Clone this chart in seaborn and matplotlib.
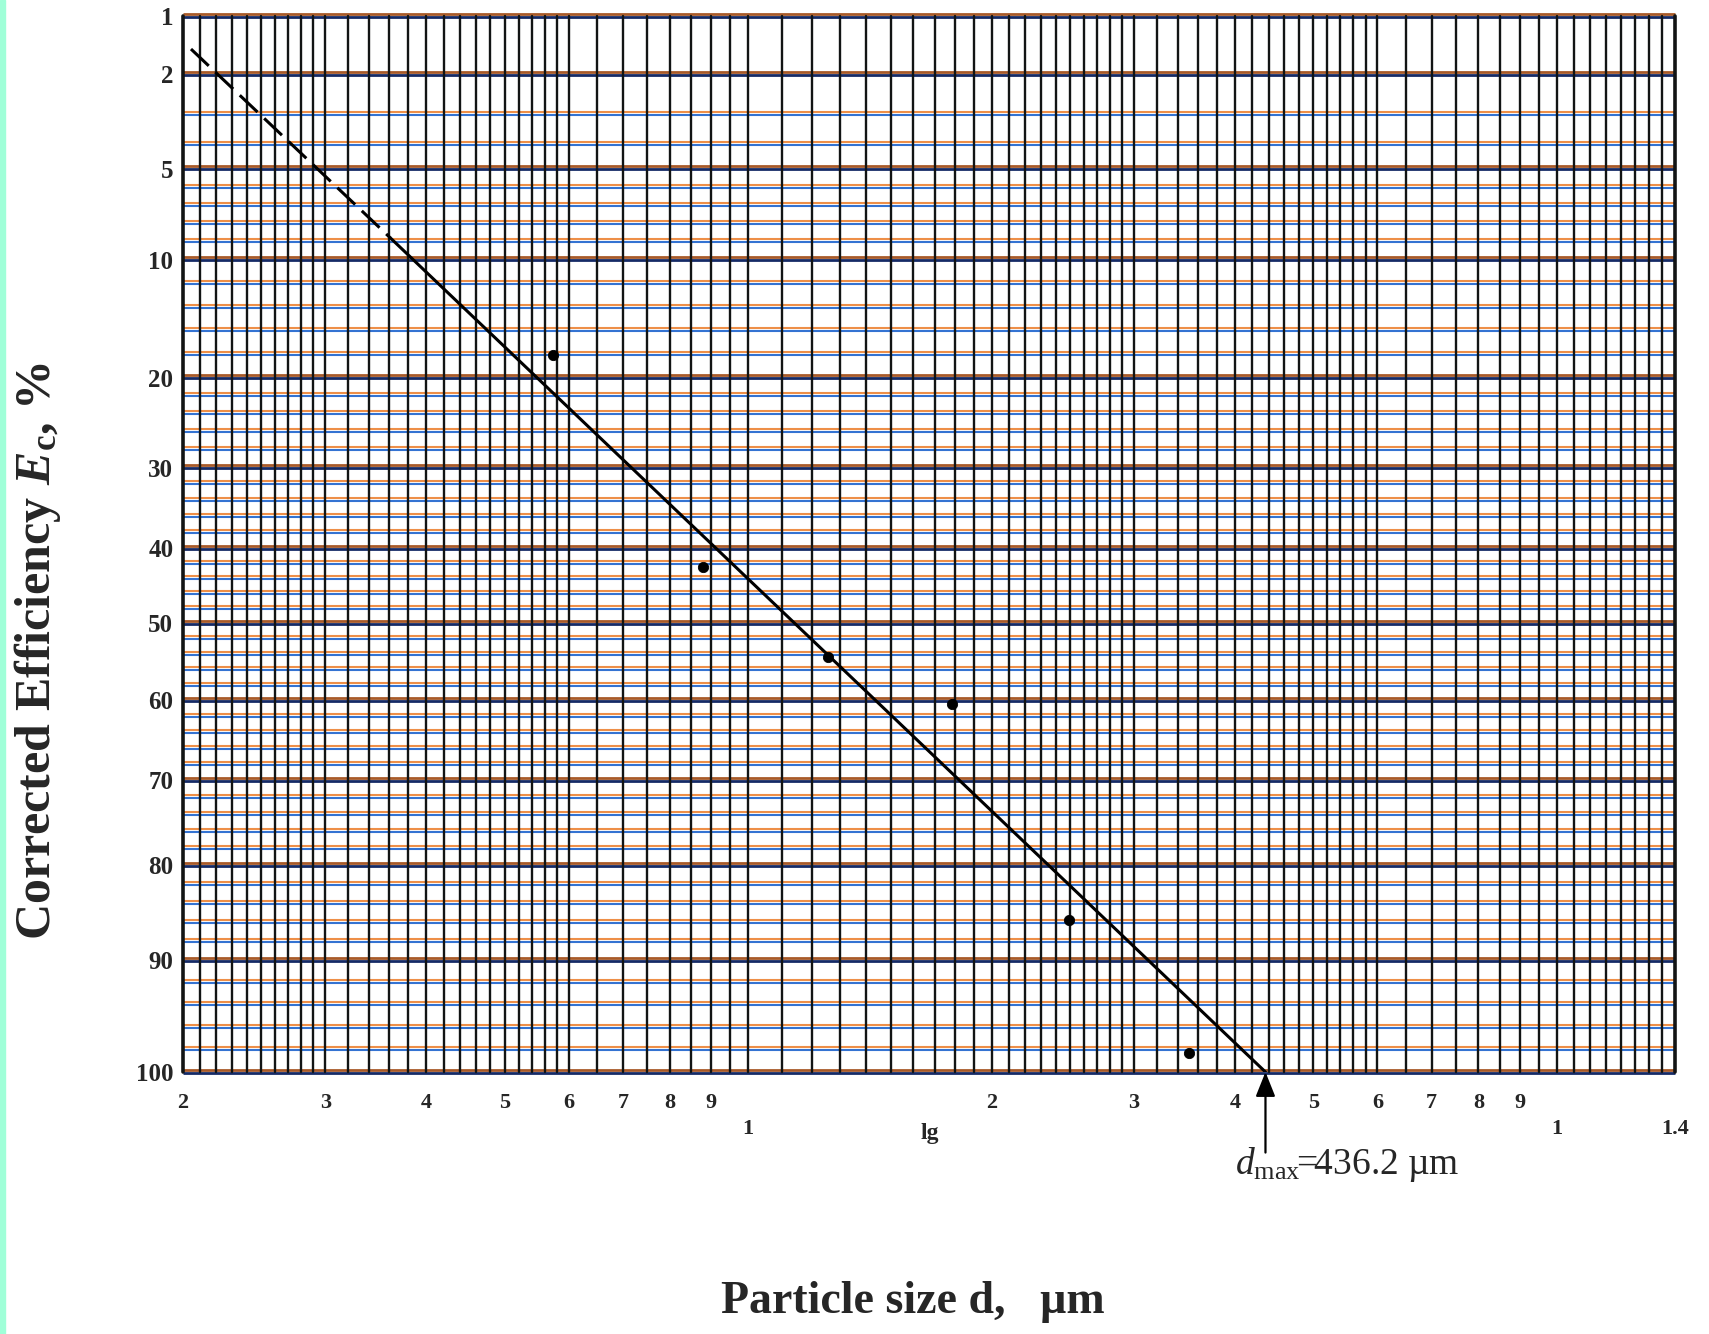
import numpy as np
import matplotlib
matplotlib.use("Agg")
import matplotlib.pyplot as plt
import matplotlib.transforms as mtransforms
from matplotlib.patches import Rectangle
from matplotlib.ticker import FixedLocator, FixedFormatter, NullLocator
import seaborn as sns

# ---------------- data ----------------
particle_size_um = [57.4, 87.9, 125.5, 178.6, 249.4, 350.8]
corrected_eff_pct = [18.1, 42.5, 54.4, 60.4, 85.8, 98.3]

fit_dashed_d = [20.46, 36.1]
fit_dashed_E = [1.57, 8.8]
fit_solid_d = [36.1, 436.2]
fit_solid_E = [8.8, 100.0]
d_max = 436.2

x_tick_values = [20, 30, 40, 50, 60, 70, 80, 90, 200, 300, 400, 500, 600, 700, 800, 900]
x_tick_labels = ["2", "3", "4", "5", "6", "7", "8", "9", "2", "3", "4", "5", "6", "7", "8", "9"]
x_decade_values = [100, 1000, 1400]
x_decade_labels = ["1", "1", "1.4"]
y_tick_values = [1, 2, 5, 10, 20, 30, 40, 50, 60, 70, 80, 90, 100]
y_tick_labels = ["1", "2", "5", "10", "20", "30", "40", "50", "60", "70", "80", "90", "100"]

# efficiency scale of the printed paper (value -> fraction of axis height)
paper_E = np.array([1, 2, 3, 4, 5, 10, 20, 30, 40, 50, 60, 70, 80, 90, 100], float)
paper_u = np.array([0, 58, 98, 129, 153, 244, 362, 452, 533, 608, 685, 765, 850, 945, 1057], float) / 1057.0


def fwd(v):
    return np.interp(v, paper_E, paper_u)


def inv(u):
    return np.interp(u, paper_u, paper_E)


# ---------------- style ----------------
sns.set_style("white")
plt.rcParams["font.family"] = ["Liberation Serif", "DejaVu Serif"]
plt.rcParams["font.weight"] = "bold"
plt.rcParams["mathtext.fontset"] = "custom"
plt.rcParams["mathtext.rm"] = "Liberation Serif:weight=normal"
plt.rcParams["mathtext.it"] = "Liberation Serif:italic:weight=normal"
plt.rcParams["mathtext.bf"] = "Liberation Serif:italic:weight=bold"
plt.rcParams["mathtext.sf"] = "Liberation Serif:weight=bold"

W, H = 1709, 1334
fig = plt.figure(figsize=(W / 100, H / 100), dpi=100)
fig.patch.set_facecolor("white")
L, R, T, B = 183, 1675, 16, 1072
ax = fig.add_axes([L / W, 1 - B / H, (R - L) / W, (B - T) / H])
ax.set_xscale("log")
ax.set_yscale("function", functions=(fwd, inv))
ax.set_xlim(20, 1400)
ax.set_ylim(100, 1)
ax.set_autoscale_on(False)

# mint strip at left edge of the scan
fig.add_artist(Rectangle((0, 0), 5 / W, 1, transform=fig.transFigure,
                         color="#A0FFD8", zorder=0))

# ---------------- horizontal (efficiency) rulings ----------------
hgrid = np.concatenate([np.arange(1, 10, 1), np.arange(10, 101, 2)])
ytr = ax.get_yaxis_transform()
up = mtransforms.offset_copy(ytr, fig=fig, x=0, y=2.4, units="dots")
dn = mtransforms.offset_copy(ytr, fig=fig, x=0, y=-0.6, units="dots")
for h in hgrid:
    major = h in y_tick_values
    c_up = "#A85A28" if major else "#EE8F48"
    c_dn = "#152a66" if major else "#3473D2"
    lw = 2.0 if major else 1.5
    ax.plot([0, 1], [h, h], transform=up, color=c_up, lw=lw, zorder=1,
            clip_on=False, solid_capstyle="butt")
    ax.plot([0, 1], [h, h], transform=dn, color=c_dn, lw=lw, zorder=1,
            clip_on=False, solid_capstyle="butt")

# ---------------- vertical (size) rulings ----------------
vgrid = np.concatenate([np.arange(20, 30, 1), np.arange(30, 60, 2), np.arange(60, 100, 5),
                        np.arange(100, 300, 10), np.arange(300, 600, 20),
                        np.arange(600, 1000, 50), np.arange(1000, 1401, 50)])
for v in vgrid:
    edge = v in (20, 1400)
    ax.axvline(v, color="#121414", lw=2.6 if edge else 1.7, zorder=2, clip_on=False)

for s in ax.spines.values():
    s.set_visible(False)

# ---------------- data ----------------
sns.lineplot(x=fit_dashed_d, y=fit_dashed_E, ax=ax, color="black", lw=2.2,
             linestyle=(0, (8, 3)), sort=False, estimator=None, zorder=4)
sns.lineplot(x=fit_solid_d, y=fit_solid_E, ax=ax, color="black", lw=2.2,
             sort=False, estimator=None, zorder=4)
sns.scatterplot(x=particle_size_um, y=corrected_eff_pct, ax=ax, color="black",
                s=55, marker="o", edgecolor="black", zorder=5)

# ---------------- ticks ----------------
ax.xaxis.set_major_locator(FixedLocator(x_tick_values))
ax.xaxis.set_major_formatter(FixedFormatter(x_tick_labels))
ax.xaxis.set_minor_locator(FixedLocator(x_decade_values))
ax.xaxis.set_minor_formatter(FixedFormatter(x_decade_labels))
ax.tick_params(axis="x", which="major", length=0, pad=15, labelsize=16)
ax.tick_params(axis="x", which="minor", length=0, pad=34, labelsize=16)
ax.yaxis.set_major_locator(FixedLocator(y_tick_values))
ax.yaxis.set_major_formatter(FixedFormatter(y_tick_labels))
ax.yaxis.set_minor_locator(NullLocator())
ax.tick_params(axis="y", which="both", length=0, pad=7, labelsize=18)
ax.set_xlabel("")
ax.set_ylabel("")

bt = mtransforms.blended_transform_factory(ax.transData, ax.transAxes)
ax.text(167.8, -0.058, "lg", transform=bt, ha="center", va="center",
        fontsize=17, fontweight="bold")

# ---------------- d_max annotation ----------------
ax.annotate("", xy=(d_max, 100), xycoords="data", xytext=(0, -58),
            textcoords="offset points", annotation_clip=False,
            arrowprops=dict(arrowstyle="-|>,head_length=0.75,head_width=0.3",
                            color="black", lw=1.6, shrinkA=0, shrinkB=0,
                            mutation_scale=20), zorder=6)
ax.text(400, -0.088,
        "$\\mathit{d}_{\\mathrm{max}}\\!\\!=\\!\\!\\mathrm{436.2\\ µm}$",
        transform=bt, ha="left", va="center", fontsize=27, fontweight="normal")

# ---------------- axis titles ----------------
fig.text(38 / W, 1 - 651 / H, "Corrected Efficiency $\\mathbf{E}_{\\mathsf{c}}$, %",
         rotation=90, ha="center", va="center", fontsize=36, fontweight="bold")
fig.text(913 / W, 1 - 1302 / H, "Particle size d,   µm", ha="center", va="center",
         fontsize=33, fontweight="bold")

fig.savefig("out.png", dpi=100, facecolor="white")
